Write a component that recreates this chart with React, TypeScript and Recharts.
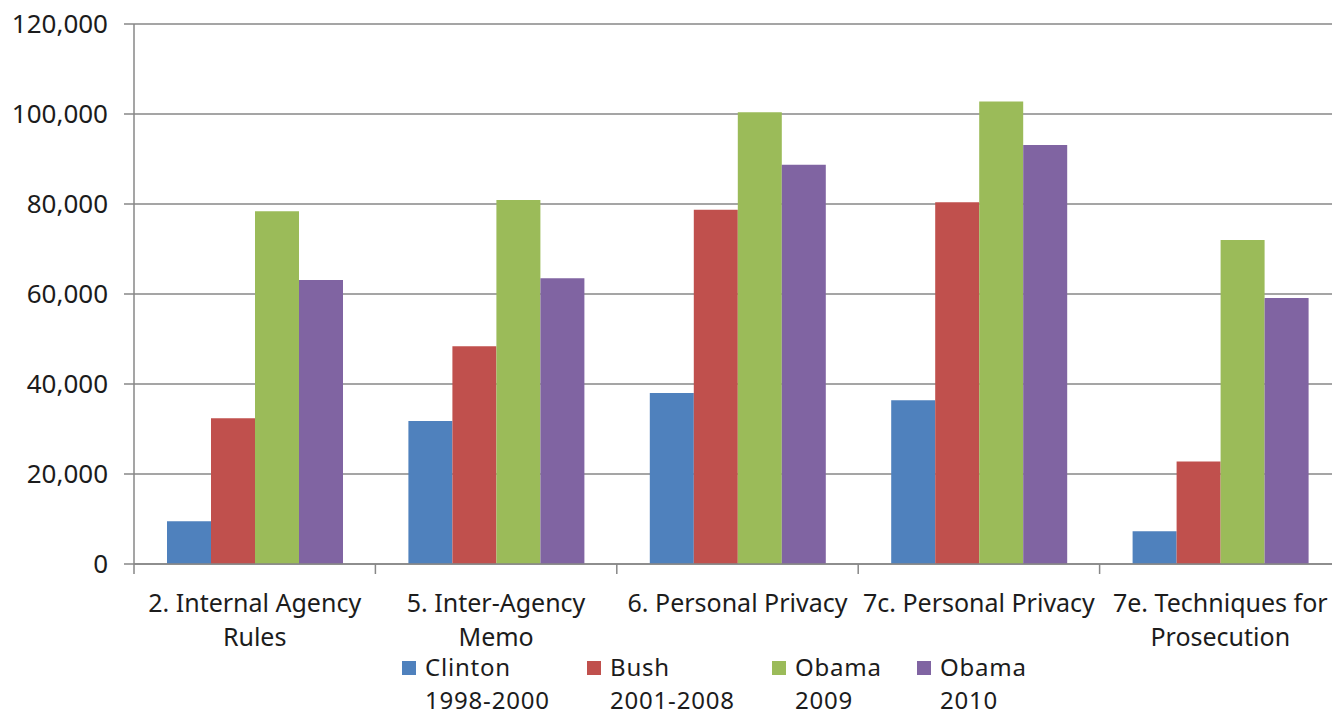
import React from 'react';
import { BarChart, Bar, XAxis, YAxis, CartesianGrid, Legend } from 'recharts';

const categories = [
  ['2. Internal Agency', 'Rules'],
  ['5. Inter-Agency', 'Memo'],
  ['6. Personal Privacy'],
  ['7c. Personal Privacy'],
  ['7e. Techniques for', 'Prosecution'],
];
const clinton = [9500, 31800, 38000, 36400, 7300];
const bush = [32400, 48400, 78700, 80400, 22800];
const obama2009 = [78400, 80900, 100400, 102800, 72000];
const obama2010 = [63100, 63500, 88700, 93100, 59100];
const yTicks = [0, 20000, 40000, 60000, 80000, 100000, 120000];

const series = [
  { key: 'clinton', label: ['Clinton', '1998-2000'], color: '#4F81BD', itemWidth: 185 },
  { key: 'bush', label: ['Bush', '2001-2008'], color: '#C0504D', itemWidth: 185 },
  { key: 'obama2009', label: ['Obama', '2009'], color: '#9BBB59', itemWidth: 145 },
  { key: 'obama2010', label: ['Obama', '2010'], color: '#8064A2', itemWidth: 130 },
];

const data = categories.map((lines, i) => ({
  name: lines.join(' '),
  clinton: clinton[i],
  bush: bush[i],
  obama2009: obama2009[i],
  obama2010: obama2010[i],
}));

const FONT = '"Noto Sans", sans-serif';
const AXIS = '#878787';
const TEXT = '#1c1c1c';

const CategoryTick = (props: any) => {
  const { x, y, index, width, visibleTicksCount } = props;
  const band = (width || 1207) / (visibleTicksCount || categories.length);
  const lines = categories[index] || [];
  const left = x - band / 2;
  return (
    <g>
      <line x1={left} y1={y} x2={left} y2={y + 10} stroke={AXIS} strokeWidth={1.5} />
      {index === categories.length - 1 && (
        <line x1={x + band / 2} y1={y} x2={x + band / 2} y2={y + 10} stroke={AXIS} strokeWidth={1.5} />
      )}
      {lines.map((t, j) => (
        <text key={j} x={x} y={y + 48 + j * 34} textAnchor="middle" fill={TEXT} fontSize={25} fontFamily={FONT}>
          {t}
        </text>
      ))}
    </g>
  );
};

const LegendContent = () => (
  <div style={{ display: 'flex', fontFamily: FONT, fontSize: 24, letterSpacing: '0.8px', color: TEXT }}>
    {series.map((s) => (
      <div key={s.key} style={{ display: 'flex', width: s.itemWidth, alignItems: 'flex-start' }}>
        <div style={{ width: 14, height: 14, background: s.color, marginTop: 11, marginRight: 9, flexShrink: 0 }} />
        <div>
          <div style={{ lineHeight: '33px' }}>{s.label[0]}</div>
          <div style={{ lineHeight: '33px' }}>{s.label[1]}</div>
        </div>
      </div>
    ))}
  </div>
);

export default function App() {
  return (
    <div style={{ position: 'absolute', left: 0, top: 0, width: 1332, height: 717, overflow: 'hidden', background: '#fff' }}>
      <BarChart
        width={1345}
        height={717}
        data={data}
        margin={{ top: 24, right: 4, bottom: 0, left: 0 }}
        barCategoryGap={33}
        barGap={0}
      >
        <CartesianGrid vertical={false} stroke={AXIS} strokeWidth={1.5} />
        <XAxis
          dataKey="name"
          height={153}
          interval={0}
          tickLine={false}
          tickSize={0}
          tickMargin={0}
          axisLine={{ stroke: AXIS, strokeWidth: 1.5 }}
          tick={<CategoryTick />}
        />
        <YAxis
          width={134}
          domain={[0, 120000]}
          ticks={yTicks}
          interval={0}
          tickSize={10}
          tickMargin={16}
          tickLine={{ stroke: AXIS, strokeWidth: 1.5 }}
          axisLine={{ stroke: AXIS, strokeWidth: 1.5 }}
          tick={{ fill: TEXT, fontSize: 26, fontFamily: FONT }}
          tickFormatter={(v: number) => v.toLocaleString('en-US')}
        />
        <Legend
          verticalAlign="middle"
          layout="horizontal"
          wrapperStyle={{ top: 650, left: 402, width: 700, height: 66 }}
          content={<LegendContent />}
        />
        {series.map((s) => (
          <Bar key={s.key} dataKey={s.key} fill={s.color} isAnimationActive={false} />
        ))}
      </BarChart>
    </div>
  );
}
